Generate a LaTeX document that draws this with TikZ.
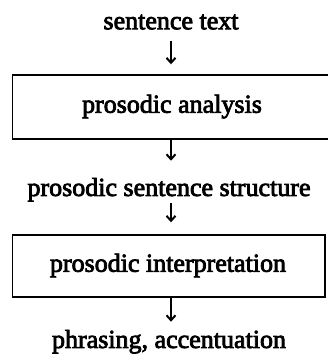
\documentclass[tikz,border=0pt]{standalone}
\usepackage{fontspec}
\setmainfont{Liberation Serif}[FakeBold=3]
\usetikzlibrary{arrows.meta}
\begin{document}
\begin{tikzpicture}[x=1pt,y=1pt,
  every node/.style={font=\fontsize{26}{31}\selectfont},
  lbl/.style={inner sep=0pt, text height=17pt, text depth=5.5pt},
  boxnode/.style={draw, line width=1.4pt, inner sep=0pt},
  arr/.style={line width=1.3pt, -{Straight Barb[length=5pt,width=9pt,line width=2pt]}}]
\useasboundingbox (0,0) rectangle (327,-355);
\node[lbl] (t0) at (171,-23.5) {sentence text};
\node[boxnode, minimum width=318pt, minimum height=64pt] (b1) at (171.7,-107) {};
\node[lbl] at (172,-107) {prosodic analysis};
\node[lbl] (t1) at (169,-190.2) {prosodic sentence structure};
\node[boxnode, minimum width=312.3pt, minimum height=62pt] (b2) at (168.85,-266) {};
\node[lbl] at (168,-266) {prosodic interpretation};
\node[lbl] (t2) at (169,-342.2) {phrasing, accentuation};
\draw[arr, shorten <=6pt, shorten >=10pt] (t0.south -| 171,0) -- (b1.north -| 171,0);
\draw[arr, shorten >=18pt] (b1.south -| 171,0) -- (t1.north -| 171,0);
\draw[arr, shorten <=1.5pt, shorten >=12pt] (t1.south -| 171,0) -- (b2.north -| 171,0);
\draw[arr, shorten >=9pt] (b2.south -| 171,0) -- (t2.north -| 171,0);
\end{tikzpicture}
\end{document}
